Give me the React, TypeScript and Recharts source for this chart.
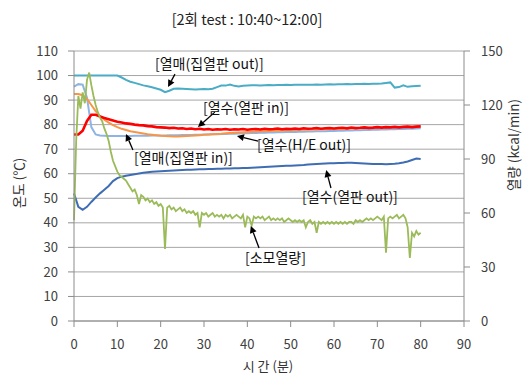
import { LineChart, Line, XAxis, YAxis, CartesianGrid, ReferenceLine } from "recharts"

// time axis (min) for the temperature series
const minutes = [
  0, 1, 2, 3, 4, 5, 6, 7, 8, 9, 10, 11, 12, 13, 14, 15, 16, 17, 18, 19, 20,
  21, 22, 23, 24, 25, 26, 27, 28, 29, 30, 31, 32, 33, 34, 35, 36, 37, 38, 39, 40,
  41, 42, 43, 44, 45, 46, 47, 48, 49, 50, 51, 52, 53, 54, 55, 56, 57, 58, 59, 60,
  61, 62, 63, 64, 65, 66, 67, 68, 69, 70, 71, 72, 73, 74, 75, 76, 77, 78, 79, 80,
]

// 열매(집열판 out)
const collectorOut = [
  100, 100, 100, 100, 100, 100, 100, 100, 100, 100, 100,
  99.2, 98.2, 97.5, 97, 96.5, 96, 95.6, 95.2, 94.7, 94.2,
  93.2, 93.8, 94.6, 94.7, 94.6, 94.5, 94.4, 94.3, 94.4, 94.5,
  94.4, 94.6, 95.3, 95.9, 95.9, 96.3, 95.8, 95.5, 95.8, 95.9,
  96, 96, 95.9, 96, 96.1, 96, 96.1, 96.1, 96.2, 96.1,
  96.2, 96.2, 96.3, 96.2, 96.3, 96.4, 96.3, 96.4, 96.5, 96.4,
  96.5, 96.5, 96.6, 96.5, 96.6, 96.6, 96.7, 96.6, 96.7, 96.7,
  96.8, 97, 97.2, 95.1, 95.3, 96, 95.4, 95.6, 95.7, 95.8,
]

// 열매(집열판 in)
const collectorIn = [
  95.5, 96.5, 96.3, 91, 79, 76, 75.6, 75.5, 75.4, 75.4, 75.4,
  75.4, 75.4, 75.4, 75.5, 75.5, 75.5, 75.5, 75.6, 75.6, 75.6,
  75.6, 75.7, 75.7, 75.7, 75.8, 75.8, 75.8, 75.9, 75.9, 76,
  76, 76.1, 76.1, 76.2, 76.2, 76.3, 76.3, 76.4, 76.5, 76.5,
  76.6, 76.6, 76.7, 76.7, 76.8, 76.8, 76.9, 76.9, 77, 77,
  77, 77.1, 77.1, 77.2, 77.2, 77.3, 77.3, 77.3, 77.4, 77.4,
  77.5, 77.5, 77.6, 77.6, 77.7, 77.7, 77.8, 77.8, 77.9, 77.9,
  78, 78, 78.1, 78.1, 78.2, 78.2, 78.3, 78.3, 78.4, 78.5,
]

// 열수(H/E out)
const heOut = [
  92.5, 92.5, 92, 90.5, 88, 85.5, 83.5, 82, 80.8, 79.8, 79,
  78.3, 77.8, 77.3, 77, 76.7, 76.4, 76.1, 75.9, 75.7, 75.5,
  75.4, 75.3, 75.2, 75.2, 75.3, 75.4, 75.5, 75.6, 75.7, 75.9,
  76, 76.1, 76.2, 76.3, 76.5, 76.6, 76.7, 76.8, 76.9, 77,
  77.1, 77.2, 77.3, 77.3, 77.4, 77.5, 77.5, 77.6, 77.7, 77.7,
  77.8, 77.8, 77.9, 77.9, 78, 78, 78.1, 78.1, 78.2, 78.2,
  78.3, 78.3, 78.4, 78.4, 78.5, 78.5, 78.6, 78.6, 78.7, 78.7,
  78.8, 78.8, 78.9, 78.9, 79, 79, 79.1, 79.1, 79.2, 79.2,
]

// 열수(열판 in)
const plateIn = [
  76, 76, 77.5, 81.5, 84, 84, 83.3, 82.7, 82.2, 81.7, 81.2,
  80.9, 80.5, 80.3, 80, 79.8, 79.7, 79.4, 79.3, 79, 78.9,
  78.8, 78.6, 78.7, 78.4, 78.5, 78.2, 78.4, 78.1, 78.3, 78,
  78.2, 77.9, 78.1, 78, 78.2, 77.9, 78.1, 78, 78.2, 77.9,
  78.1, 78.2, 78, 78.3, 78.1, 78.2, 78.4, 78.1, 78.3, 78.2,
  78.4, 78.2, 78.5, 78.3, 78.4, 78.6, 78.3, 78.5, 78.6, 78.4,
  78.6, 78.7, 78.5, 78.8, 78.6, 78.7, 78.9, 78.7, 78.8, 79,
  78.8, 79, 78.9, 79.1, 78.9, 79.1, 79.2, 79, 79.2, 79.3,
]

// 열수(열판 out)
const plateOut = [
  52, 46.5, 45.3, 46.5, 48.5, 50.3, 52, 53.5, 55, 57, 58.2,
  58.8, 59.2, 59.5, 59.8, 60.1, 60.4, 60.6, 60.8, 60.9, 61,
  61.1, 61.2, 61.3, 61.4, 61.5, 61.6, 61.6, 61.7, 61.8, 61.8,
  61.9, 61.9, 62, 62, 62.1, 62.1, 62.2, 62.2, 62.3, 62.3,
  62.4, 62.5, 62.6, 62.7, 62.8, 62.9, 63, 63.1, 63.2, 63.3,
  63.4, 63.5, 63.6, 63.8, 63.9, 64, 64.1, 64.2, 64.3, 64.3,
  64.4, 64.4, 64.5, 64.5, 64.4, 64.3, 64.2, 64.1, 64, 64,
  64, 63.9, 64, 64.1, 64.3, 64.6, 65, 65.6, 66.2, 66,
]

// time axis (min) for 소모열량, sampled every half minute
const heatMinutes = [
  0, 0.5, 1, 1.5, 2, 2.5, 3, 3.5, 4, 4.5, 5, 5.5, 6, 6.5, 7, 7.5, 8, 8.5, 9, 9.5,
  10, 10.5, 11, 11.5, 12, 12.5, 13, 13.5, 14, 14.5, 15, 15.5, 16, 16.5, 17, 17.5, 18, 18.5, 19, 19.5,
  20, 20.5, 21, 21.5, 22, 22.5, 23, 23.5, 24, 24.5, 25, 25.5, 26, 26.5, 27, 27.5, 28, 28.5, 29, 29.5,
  30, 30.5, 31, 31.5, 32, 32.5, 33, 33.5, 34, 34.5, 35, 35.5, 36, 36.5, 37, 37.5, 38, 38.5, 39, 39.5,
  40, 40.5, 41, 41.5, 42, 42.5, 43, 43.5, 44, 44.5, 45, 45.5, 46, 46.5, 47, 47.5, 48, 48.5, 49, 49.5,
  50, 50.5, 51, 51.5, 52, 52.5, 53, 53.5, 54, 54.5, 55, 55.5, 56, 56.5, 57, 57.5, 58, 58.5, 59, 59.5,
  60, 60.5, 61, 61.5, 62, 62.5, 63, 63.5, 64, 64.5, 65, 65.5, 66, 66.5, 67, 67.5, 68, 68.5, 69, 69.5,
  70, 70.5, 71, 71.5, 72, 72.5, 73, 73.5, 74, 74.5, 75, 75.5, 76, 76.5, 77, 77.5, 78, 78.5, 79, 79.5,
  80,
]

// 소모열량 (kcal/min)
const heatUse = [
  56, 100, 125, 118, 127, 121, 134, 138, 131, 125, 120, 116, 113, 111, 107, 104, 100, 94, 89, 86,
  83, 81, 80, 79, 78, 76, 74, 72, 73, 70, 65, 70, 69, 67, 68, 66, 67, 65, 66, 64,
  65, 63, 40, 63, 64, 62, 63, 61, 62, 63, 61, 62, 60, 61, 60, 61, 59, 60, 52, 60,
  59, 60, 58, 59, 60, 58, 59, 58, 59, 57, 59, 58, 59, 57, 58, 59, 58, 57, 59, 52,
  58, 57, 53, 58, 57, 58, 57, 58, 56, 57, 58, 56, 57, 56, 57, 56, 57, 55, 56, 57,
  56, 55, 56, 55, 56, 55, 56, 52, 55, 56, 54, 55, 49, 55, 54, 55, 54, 55, 54, 55,
  54, 55, 54, 55, 54, 55, 54, 55, 55, 54, 56, 55, 56, 55, 56, 57, 56, 57, 56, 57,
  58, 57, 56, 58, 38, 57, 58, 57, 58, 59, 57, 58, 59, 57, 52, 35, 49, 47, 50, 48,
  49,
]

const xTicks = [0, 10, 20, 30, 40, 50, 60, 70, 80, 90]
const tempTicks = [0, 10, 20, 30, 40, 50, 60, 70, 80, 90, 100, 110]
const heatTicks = [0, 30, 60, 90, 120, 150]

const toRows = (ts: number[], vs: number[]) => ts.map((t, i) => ({ t, v: vs[i] }))

const series = [
  { name: "열매(집열판 out)", values: collectorOut, color: "#4BACC6", width: 2 },
  { name: "열매(집열판 in)", values: collectorIn, color: "#8EB4E3", width: 2 },
  { name: "열수(H/E out)", values: heOut, color: "#F79646", width: 2 },
  { name: "열수(열판 out)", values: plateOut, color: "#3F6DB3", width: 2 },
  { name: "열수(열판 in)", values: plateIn, color: "#FF0000", width: 2.6 },
]

// annotation arrows, in data coordinates (tail -> head)
const arrows = [
  { axis: "left", from: { x: 23.3, y: 100.6 }, to: { x: 21.7, y: 95.3 } },
  { axis: "left", from: { x: 32.5, y: 85.1 }, to: { x: 28.6, y: 79.0 } },
  { axis: "left", from: { x: 13.6, y: 69.7 }, to: { x: 12.0, y: 76.2 } },
  { axis: "left", from: { x: 42.5, y: 73.3 }, to: { x: 37.6, y: 75.4 } },
  { axis: "left", from: { x: 59.3, y: 54.2 }, to: { x: 58.2, y: 61.5 } },
  { axis: "left", from: { x: 42.7, y: 29.7 }, to: { x: 40.8, y: 38.7 } },
]

const notes = [
  { text: "[열매(집열판 out)]", left: 155, top: 63 },
  { text: "[열수(열판 in)]", left: 203, top: 107 },
  { text: "[열매(집열판 in)]", left: 134, top: 157 },
  { text: "[열수(H/E out)]", left: 257, top: 144 },
  { text: "[열수(열판 out)]", left: 302, top: 196 },
  { text: "[소모열량]", left: 245, top: 257 },
]

const font = "'Noto Sans CJK KR', 'Noto Sans', sans-serif"

function Arrow(props: any) {
  const { x1, y1, x2, y2 } = props
  const a = Math.atan2(y2 - y1, x2 - x1)
  const len = 7
  const w = 3.5
  const bx = x2 - len * Math.cos(a)
  const by = y2 - len * Math.sin(a)
  const px = -Math.sin(a) * w
  const py = Math.cos(a) * w
  return (
    <g>
      <line x1={x1} y1={y1} x2={bx} y2={by} stroke="#000" strokeWidth={1.3} />
      <polygon points={`${x2},${y2} ${bx + px},${by + py} ${bx - px},${by - py}`} fill="#000" />
    </g>
  )
}

export default function App() {
  const tick = { fontSize: 13, fill: "#404040", fontFamily: font }
  return (
    <div style={{ position: "absolute", left: 0, top: 0, width: 524, height: 374, background: "#fff", fontFamily: font }}>
      <LineChart width={524} height={374} margin={{ top: 51, right: 0, bottom: 0, left: 0 }}>
        <CartesianGrid vertical={false} stroke="#A6A6A6" yAxisId="left" />
        <XAxis
          type="number"
          dataKey="t"
          domain={[0, 90]}
          ticks={xTicks}
          allowDuplicatedCategory={false}
          height={53}
          tick={tick}
          tickMargin={13}
          stroke="#8C8C8C"
        />
        <YAxis
          yAxisId="left"
          domain={[0, 110]}
          ticks={tempTicks}
          width={74}
          tick={tick}
          tickMargin={10}
          stroke="#8C8C8C"
          interval={0}
        />
        <YAxis
          yAxisId="right"
          orientation="right"
          domain={[0, 150]}
          ticks={heatTicks}
          width={60}
          tick={tick}
          tickMargin={11}
          stroke="#8C8C8C"
          interval={0}
        />
        {series.map((s) => (
          <Line
            key={s.name}
            yAxisId="left"
            data={toRows(minutes, s.values)}
            dataKey="v"
            name={s.name}
            stroke={s.color}
            strokeWidth={s.width}
            dot={false}
            isAnimationActive={false}
          />
        ))}
        <Line
          yAxisId="right"
          data={toRows(heatMinutes, heatUse)}
          dataKey="v"
          name="소모열량"
          stroke="#9BBB59"
          strokeWidth={1.8}
          dot={false}
          isAnimationActive={false}
        />
        {arrows.map((a, i) => (
          <ReferenceLine
            key={i}
            yAxisId={a.axis}
            segment={[a.from, a.to]}
            ifOverflow="visible"
            shape={Arrow}
          />
        ))}
      </LineChart>

      <div style={{ position: "absolute", left: 0, width: 494, top: 9, textAlign: "center", fontSize: 14.5, lineHeight: "20px", color: "#222" }}>
        [2회 test : 10:40~12:00]
      </div>
      {notes.map((n) => (
        <div
          key={n.text}
          style={{ position: "absolute", left: n.left, top: n.top - 10, fontSize: 14, lineHeight: "20px", color: "#111", whiteSpace: "nowrap" }}
        >
          {n.text}
        </div>
      ))}
      <div style={{ position: "absolute", left: 18, top: 183, transform: "translate(-50%, -50%) rotate(-90deg)", fontSize: 13.5, lineHeight: "16px", color: "#333", whiteSpace: "nowrap" }}>
        온도 (℃)
      </div>
      <div style={{ position: "absolute", left: 513, top: 145, transform: "translate(-50%, -50%) rotate(-90deg)", fontSize: 13.5, lineHeight: "16px", color: "#333", whiteSpace: "nowrap" }}>
        열량 (kcal/min)
      </div>
      <div style={{ position: "absolute", left: 268, top: 366, transform: "translate(-50%, -50%)", fontSize: 13, lineHeight: "14px", color: "#333", whiteSpace: "nowrap" }}>
        시 간 (분)
      </div>
    </div>
  )
}
